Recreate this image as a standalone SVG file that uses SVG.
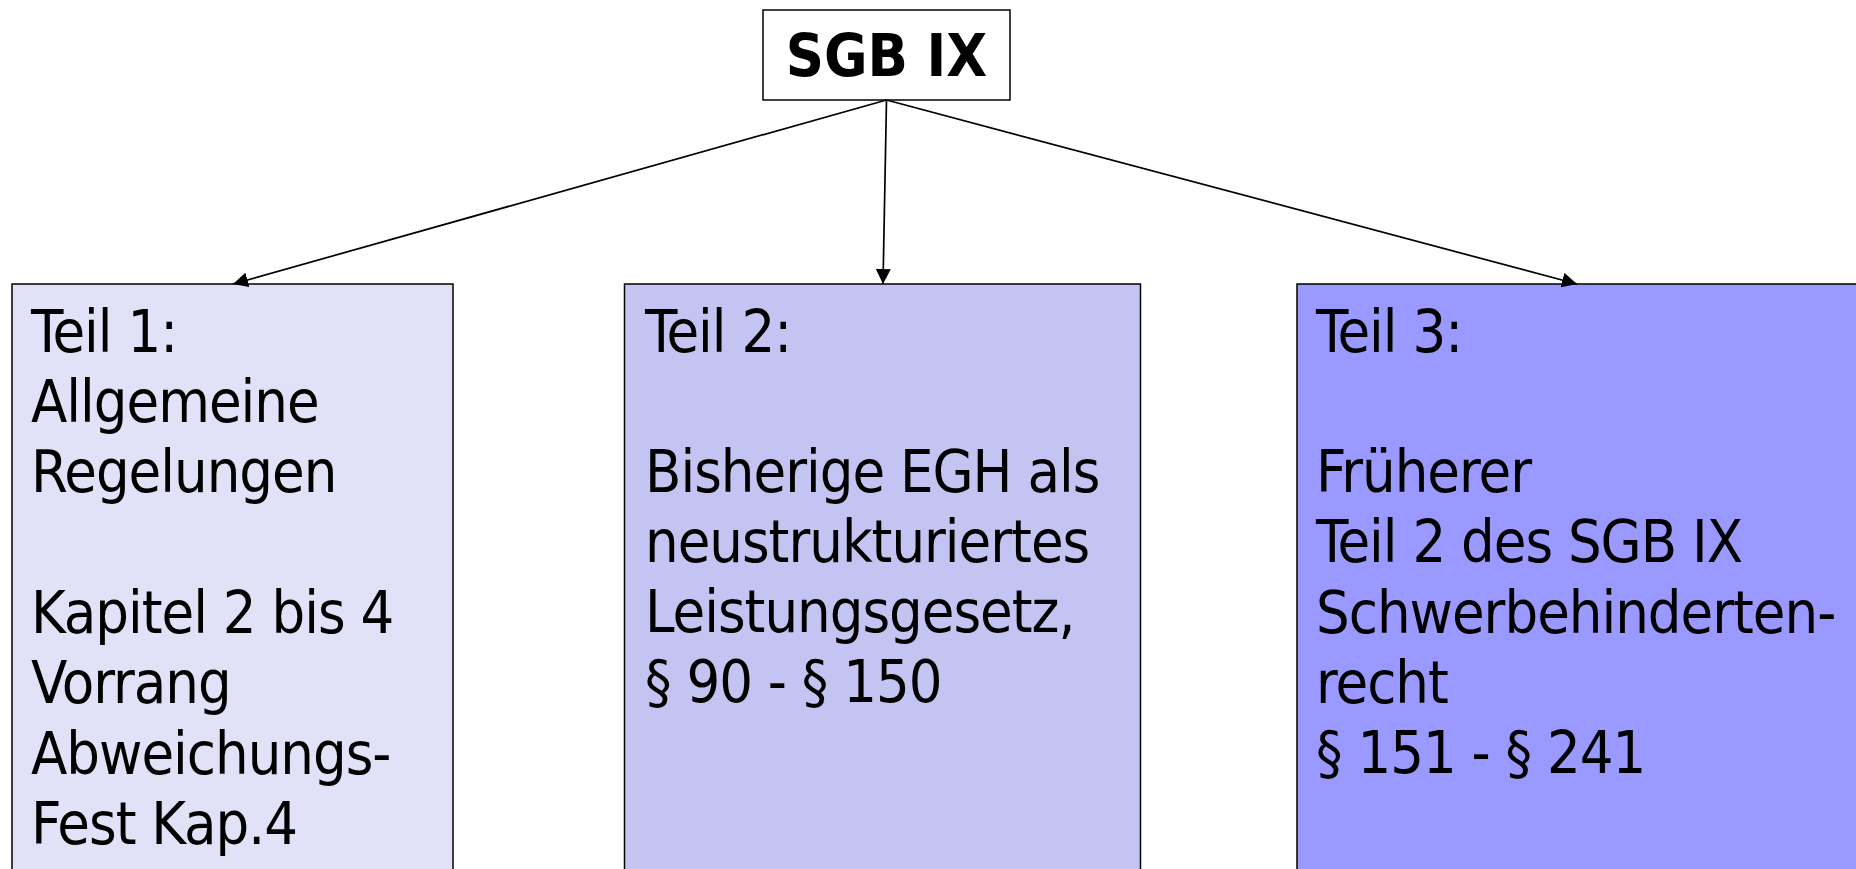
<svg xmlns="http://www.w3.org/2000/svg" width="1856" height="869" viewBox="0 0 1856 869">
  <style>
    .box { stroke: #000; stroke-width: 1.5; }
    .txt { font-family: "DejaVu Sans", Verdana, sans-serif; font-stretch: condensed; font-size: 59px; letter-spacing: -1px; fill: #000; }
    .title { font-family: "DejaVu Sans", Verdana, sans-serif; font-stretch: condensed; font-size: 59px; font-weight: bold; fill: #000; }
    .edge { stroke: #000; stroke-width: 1.7; fill: none; marker-end: url(#arrow); }
  </style>
  <defs>
    <!-- filled triangular arrowhead, tip on the end point -->
    <marker id="arrow" markerUnits="userSpaceOnUse" markerWidth="17" markerHeight="16" refX="15" refY="7.5" orient="auto">
      <path d="M0,0 L15,7.5 L0,15 z" fill="#000"/>
    </marker>
  </defs>
  <rect width="1856" height="869" fill="#fff"/>

  <g id="root">
    <rect class="box" x="763" y="10" width="247" height="90" fill="#fff"/>
    <text class="title" x="886.5" y="76" text-anchor="middle">SGB IX</text>
  </g>

  <g id="teil1">
    <rect class="box" x="12" y="284" width="441" height="600" fill="#E1E1F7"/>
    <text class="txt">
      <tspan x="31" y="352">Teil 1:</tspan>
      <tspan x="31" y="422">Allgemeine</tspan>
      <tspan x="31" y="492">Regelungen</tspan>
      <tspan x="31" y="633">Kapitel 2 bis 4</tspan>
      <tspan x="31" y="703">Vorrang</tspan>
      <tspan x="31" y="774">Abweichungs-</tspan>
      <tspan x="31" y="844">Fest Kap.4</tspan>
    </text>
  </g>

  <g id="teil2">
    <rect class="box" x="624.5" y="284" width="516" height="600" fill="#C4C4F2"/>
    <text class="txt">
      <tspan x="645" y="352">Teil 2:</tspan>
      <tspan x="645" y="492">Bisherige EGH als</tspan>
      <tspan x="645" y="562">neustrukturiertes</tspan>
      <tspan x="645" y="632">Leistungsgesetz,</tspan>
      <tspan x="645" y="702">§ 90 - § 150</tspan>
    </text>
  </g>

  <g id="teil3">
    <rect class="box" x="1297" y="284" width="600" height="600" fill="#9999FF"/>
    <text class="txt">
      <tspan x="1316" y="352">Teil 3:</tspan>
      <tspan x="1316" y="492">Früherer</tspan>
      <tspan x="1316" y="562">Teil 2 des SGB IX</tspan>
      <tspan x="1316" y="633">Schwerbehinderten-</tspan>
      <tspan x="1316" y="703">recht</tspan>
      <tspan x="1316" y="773">§ 151 - § 241</tspan>
    </text>
  </g>

  <g id="connectors">
    <line class="edge" x1="886.5" y1="100" x2="233" y2="284"/>
    <line class="edge" x1="886.5" y1="100" x2="883" y2="284"/>
    <line class="edge" x1="886.5" y1="100" x2="1577" y2="284"/>
  </g>
</svg>
